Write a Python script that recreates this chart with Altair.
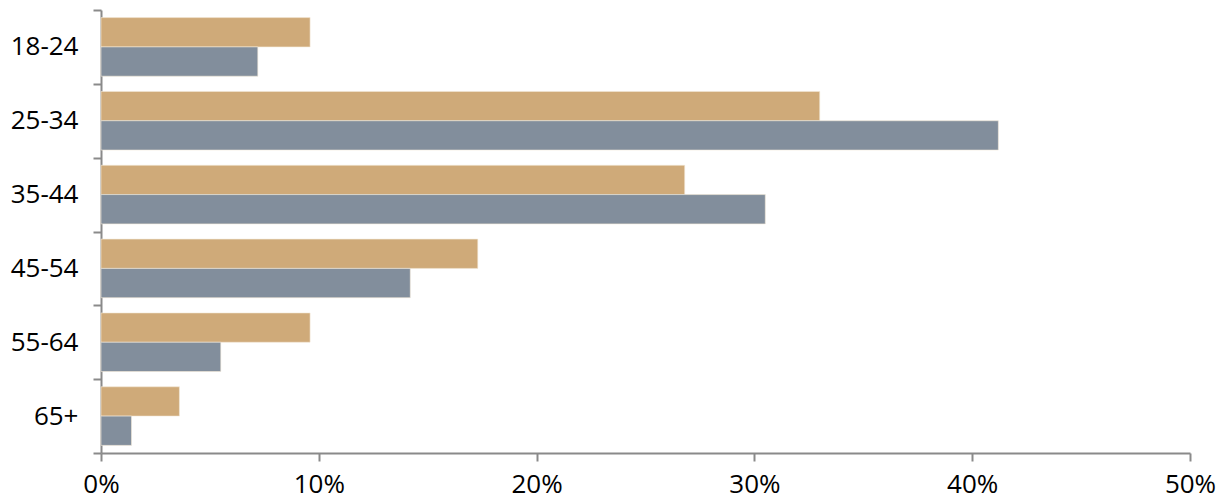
import altair as alt
import pandas as pd

age_groups = ["18-24", "25-34", "35-44", "45-54", "55-64", "65+"]
series_names = ["Series 1", "Series 2"]
series_1 = [9.6, 33.0, 26.8, 17.3, 9.6, 3.6]
series_2 = [7.2, 41.2, 30.5, 14.2, 5.5, 1.4]
x_ticks = [0, 10, 20, 30, 40, 50]
colors = ["#CFAA79", "#828E9C"]

rows = []
for i, g in enumerate(age_groups):
    rows.append({"age": g, "series": series_names[0], "value": series_1[i]})
    rows.append({"age": g, "series": series_names[1], "value": series_2[i]})
df = pd.DataFrame(rows)

axis_color = "#8a8a8a"
font = "Open Sans"

chart = alt.Chart(df).mark_bar(
    stroke="#f3ead9", strokeWidth=0.6
).encode(
    y=alt.Y(
        "age:N",
        sort=age_groups,
        scale=alt.Scale(paddingInner=0, paddingOuter=0),
        axis=alt.Axis(
            title=None,
            tickBand="extent",
            domainColor=axis_color,
            domainWidth=2,
            tickColor=axis_color,
            tickWidth=2,
            tickSize=8,
            labelFont=font,
            labelFontSize=26,
            labelColor="#000000",
            labelPadding=15,
            grid=False,
        ),
    ),
    yOffset=alt.YOffset(
        "series:N",
        sort=series_names,
        scale=alt.Scale(paddingOuter=0.26, paddingInner=0),
    ),
    x=alt.X(
        "value:Q",
        scale=alt.Scale(domain=[0, 50], nice=False),
        axis=alt.Axis(
            title=None,
            values=x_ticks,
            labelExpr="datum.value + '%'",
            labelFlush=False,
            domainColor=axis_color,
            domainWidth=2,
            tickColor=axis_color,
            tickWidth=2,
            tickSize=8,
            labelFont=font,
            labelFontSize=26,
            labelColor="#000000",
            labelPadding=10,
            grid=False,
        ),
    ),
    color=alt.Color(
        "series:N",
        sort=series_names,
        scale=alt.Scale(domain=series_names, range=colors),
        legend=None,
    ),
).properties(
    width=1089,
    height=443,
    autosize=alt.AutoSizeParams(type="none"),
    padding={"left": 101, "top": 10, "right": 31, "bottom": 50},
    background="#ffffff",
).configure_view(stroke=None)

chart.save("out.html", embed_options={"renderer": "svg", "actions": False})
